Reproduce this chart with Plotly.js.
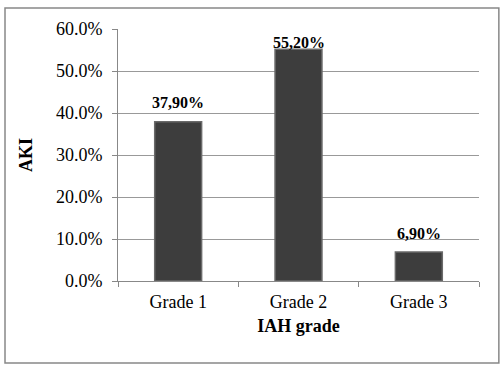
<!DOCTYPE html>
<html><head><meta charset="utf-8">
<script src="https://cdn.plot.ly/plotly-3.0.1.min.js"></script>
<style>html,body{margin:0;padding:0;background:#fff;}#c{width:503px;height:372px;}</style>
</head><body><div id="c"></div>
<script>
const categories = ["Grade 1", "Grade 2", "Grade 3"];
const akiValues = [0.379, 0.552, 0.069];
const valueLabels = ["37,90%", "55,20%", "6,90%"];
const yTickVals = [0, 0.1, 0.2, 0.3, 0.4, 0.5, 0.6];
const yTickText = ["0.0%", "10.0%", "20.0%", "30.0%", "40.0%", "50.0%", "60.0%"];

const serif = "Liberation Serif, Times New Roman, serif";
const yMax = 0.6;
const trace = {
  type: "bar", x: categories, y: akiValues,
  marker: {color: "#3d3d3d", line: {color: "#6a6a6a", width: 1.5}},
  hoverinfo: "skip"
};
// labels above bars, kept inside the plot area (as in Excel)
const annotations = categories.map((c, i) => ({
  x: c, y: Math.min(akiValues[i] + 0.045, yMax - 0.033),
  xref: "x", yref: "y", yanchor: "middle", showarrow: false,
  text: "<b>" + valueLabels[i] + "</b>",
  font: {family: serif, size: 16, color: "#000"}
}));
const layout = {
  width: 503, height: 372,
  margin: {l: 118, r: 24, t: 29, b: 91},
  paper_bgcolor: "#fff", plot_bgcolor: "#fff",
  bargap: 0.61, showlegend: false,
  font: {family: serif, size: 18, color: "#000"},
  xaxis: {
    type: "category", tickson: "boundaries", ticks: "outside", ticklen: 5, tickcolor: "#888",
    showline: true, linecolor: "#888", linewidth: 1, showgrid: false,
    tickfont: {family: serif, size: 18}, ticklabelstandoff: 4,
    title: {text: "<b>IAH grade</b>", font: {family: serif, size: 18}, standoff: 8}
  },
  yaxis: {
    range: [0, yMax], tickvals: yTickVals, ticktext: yTickText,
    ticks: "outside", ticklen: 5, tickcolor: "#888",
    showline: true, linecolor: "#888", linewidth: 1,
    showgrid: true, gridcolor: "#999", gridwidth: 1, zeroline: false,
    tickfont: {family: serif, size: 18}, ticklabelstandoff: 6,
    title: {text: "<b>AKI</b>", font: {family: serif, size: 18}, standoff: 18}
  },
  annotations: annotations,
  shapes: [{
    type: "rect", xref: "paper", yref: "paper",
    x0: -0.313, x1: 1.055, y0: -0.325, y1: 1.083,
    line: {color: "#888", width: 1.5}, fillcolor: "rgba(0,0,0,0)", layer: "below"
  }]
};
Plotly.newPlot("c", [trace], layout, {staticPlot: true, displayModeBar: false});
</script></body></html>
